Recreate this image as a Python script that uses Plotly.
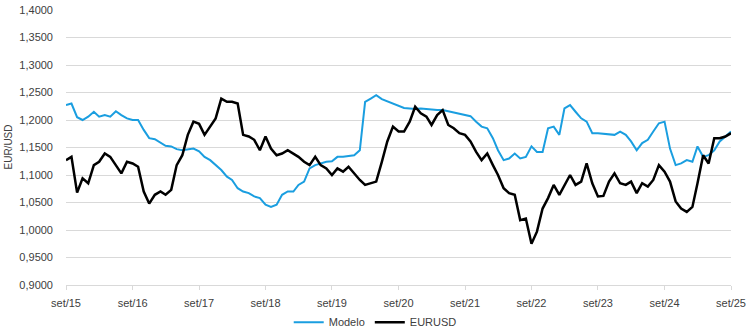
import pandas as pd
import plotly.graph_objects as go

dates = pd.date_range("2015-09-01", periods=121, freq="MS")

modelo = [
    1.227, 1.230, 1.205, 1.200, 1.206, 1.215, 1.206, 1.209, 1.206, 1.216,
    1.209, 1.203, 1.200, 1.200, 1.182, 1.167, 1.165, 1.158, 1.153, 1.152,
    1.147, 1.145, 1.147, 1.148, 1.143, 1.133, 1.127, 1.118, 1.109, 1.097,
    1.091, 1.076, 1.070, 1.067, 1.061, 1.058, 1.046, 1.042, 1.046, 1.064,
    1.070, 1.070, 1.082, 1.088, 1.112, 1.118, 1.121, 1.124, 1.125, 1.133,
    1.133, 1.135, 1.136, 1.145, 1.233, 1.239, 1.245, 1.238, 1.234, 1.230,
    1.226, 1.222, 1.221, 1.220, 1.221, 1.220, 1.218, 1.218, 1.218, 1.216,
    1.214, 1.212, 1.210, 1.207, 1.197, 1.188, 1.185, 1.167, 1.145, 1.127,
    1.130, 1.139, 1.130, 1.133, 1.152, 1.142, 1.142, 1.185, 1.188, 1.173,
    1.221, 1.227, 1.215, 1.203, 1.197, 1.176, 1.176, 1.175, 1.173, 1.173,
    1.179, 1.173, 1.161, 1.145, 1.158, 1.164, 1.179, 1.194, 1.197, 1.148,
    1.118, 1.121, 1.127, 1.124, 1.152, 1.133, 1.136, 1.145, 1.161, 1.170,
    1.179,
]

eurusd = [
    1.127, 1.133, 1.068, 1.094, 1.085, 1.118, 1.124, 1.139, 1.133, 1.118,
    1.103, 1.124, 1.121, 1.115, 1.070, 1.048, 1.064, 1.070, 1.064, 1.073,
    1.118, 1.136, 1.173, 1.197, 1.193, 1.173, 1.188, 1.203, 1.239, 1.233,
    1.233, 1.230, 1.173, 1.170, 1.164, 1.145, 1.170, 1.148, 1.136, 1.139,
    1.145, 1.139, 1.133, 1.124, 1.118, 1.133, 1.118, 1.112, 1.100, 1.112,
    1.106, 1.115, 1.103, 1.091, 1.082, 1.085, 1.088, 1.124, 1.161, 1.188,
    1.179, 1.179, 1.197, 1.224, 1.212, 1.206, 1.191, 1.209, 1.218, 1.191,
    1.185, 1.176, 1.173, 1.161, 1.142, 1.127, 1.139, 1.118, 1.100, 1.076,
    1.067, 1.064, 1.018, 1.021, 0.975, 0.997, 1.039, 1.058, 1.082, 1.064,
    1.082, 1.100, 1.082, 1.088, 1.121, 1.085, 1.061, 1.062, 1.088, 1.103,
    1.085, 1.082, 1.088, 1.067, 1.085, 1.079, 1.091, 1.118, 1.106, 1.088,
    1.052, 1.039, 1.033, 1.042, 1.085, 1.136, 1.121, 1.167, 1.167, 1.170,
    1.176,
]

tick_dates = pd.date_range("2015-09-01", periods=11, freq="12MS")
tick_labels = ["set/15", "set/16", "set/17", "set/18", "set/19", "set/20",
               "set/21", "set/22", "set/23", "set/24", "set/25"]
y_ticks = [0.90 + 0.05 * k for k in range(11)]
y_labels = [f"{v:.4f}".replace(".", ",") for v in y_ticks]

FONT = "Liberation Sans"
GRID = "#d9d9d9"

fig = go.Figure()
fig.add_trace(go.Scatter(x=dates, y=modelo, name="Modelo", mode="lines",
                         line=dict(color="#1a9ee0", width=2)))
fig.add_trace(go.Scatter(x=dates, y=eurusd, name="EURUSD", mode="lines",
                         line=dict(color="#000000", width=2.5)))

fig.update_layout(
    width=750, height=330,
    margin=dict(l=66, r=19, t=10, b=45, autoexpand=False),
    paper_bgcolor="white", plot_bgcolor="white",
    font=dict(family=FONT, size=11, color="#404040"),
    showlegend=True,
    legend=dict(orientation="h", x=0.465, xanchor="center", y=-0.135,
                yanchor="middle", font=dict(size=11, color="#404040"),
                itemwidth=30, bgcolor="rgba(0,0,0,0)"),
    xaxis=dict(range=[dates[0], dates[-1]], tickvals=tick_dates,
               ticktext=tick_labels, showgrid=False, showline=True,
               linecolor=GRID, linewidth=1, ticks="outside", ticklen=4,
               tickcolor=GRID, zeroline=False, ticklabelstandoff=4),
    yaxis=dict(range=[0.9, 1.4], tickvals=y_ticks, ticktext=y_labels,
               showgrid=True, gridcolor=GRID, gridwidth=1, zeroline=False,
               showline=False, ticks="", ticklabelstandoff=12),
    annotations=[dict(text="EUR/USD", xref="paper", yref="paper",
                      x=(8 - 66) / 665, y=0.5, xanchor="center",
                      yanchor="middle", textangle=-90, showarrow=False,
                      font=dict(size=10, color="#404040"))],
)

fig.write_html("out.html")
